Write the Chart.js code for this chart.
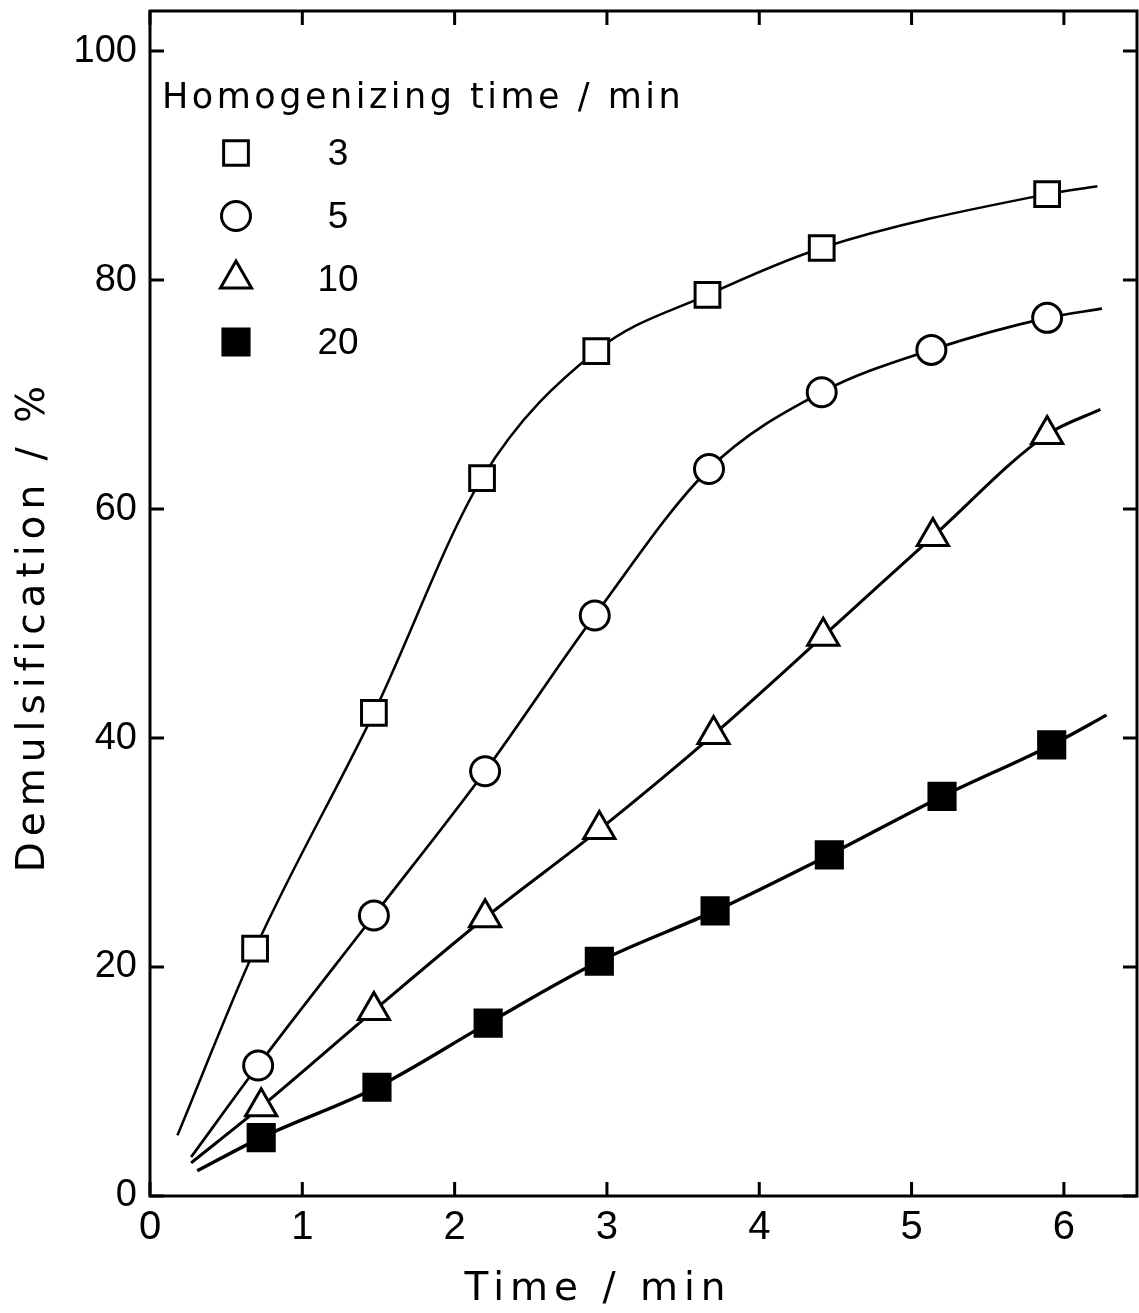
<!DOCTYPE html>
<html>
<head>
<meta charset="utf-8">
<script src="https://cdn.jsdelivr.net/npm/chart.js@4/dist/chart.umd.min.js"></script>
<style>
  html, body { margin: 0; padding: 0; background: #fff; }
  #wrap { width: 1139px; height: 1313px; }
</style>
</head>
<body>
<div id="wrap"><canvas id="myChart" width="1139" height="1313"></canvas></div>
<script>
// Homogenizing time of each series (legend labels)
const seriesNames = ['3', '5', '10', '20'];
const legendTitle = 'Homogenizing time / min';

// measured points: time / min and demulsification / %
const t3 = [0.69, 1.47, 2.18, 2.93, 3.66, 4.41, 5.89];
const d3 = [21.6, 42.2, 62.7, 73.8, 78.7, 82.8, 87.5];
const t5 = [0.71, 1.47, 2.20, 2.92, 3.67, 4.41, 5.13, 5.89];
const d5 = [11.4, 24.5, 37.1, 50.7, 63.5, 70.2, 73.9, 76.7];
const t10 = [0.73, 1.47, 2.20, 2.95, 3.70, 4.42, 5.14, 5.89];
const d10 = [7.8, 16.2, 24.3, 32.0, 40.3, 48.9, 57.6, 66.5];
const t20 = [0.73, 1.49, 2.22, 2.95, 3.71, 4.46, 5.20, 5.92];
const d20 = [5.1, 9.5, 15.1, 20.5, 24.9, 29.8, 34.9, 39.4];

// where each drawn curve starts and ends
const curveStartX = [0.18, 0.27, 0.27, 0.31];
const curveStartY = [5.3, 3.4, 2.9, 2.2];
const curveEndX = [6.22, 6.25, 6.24, 6.28];
const curveEndY = [88.2, 77.5, 68.7, 42.0];

// axis ticks
const xTicks = [0, 1, 2, 3, 4, 5, 6];
const yTicks = [0, 20, 40, 60, 80, 100];

const times = [t3, t5, t10, t20];
const values = [d3, d5, d10, d20];

// marker and line look for each series
const markers = [
  { pointStyle: 'rect', radius: 17.5, fill: '#fff', line: 2.5 },
  { pointStyle: 'circle', radius: 14.5, fill: '#fff', line: 2.7 },
  { pointStyle: 'triangle', radius: 18, fill: '#fff', line: 3 },
  { pointStyle: 'rect', radius: 18.5, fill: '#000', line: 3.4 }
];

const FONT = "'Liberation Sans', Arial, sans-serif";
const TITLE_FONT = "'DejaVu Sans', sans-serif";
const TICK = 14;

//Monta os datasets: curva + marcadores de cada série.
function buildDatasets() {
  return seriesNames.map((name, i) => {
    const pts = [{ x: curveStartX[i], y: curveStartY[i] }]
      .concat(times[i].map((t, j) => ({ x: t, y: values[i][j] })))
      .concat([{ x: curveEndX[i], y: curveEndY[i] }]);
    const last = pts.length - 1;
    const m = markers[i];
    return {
      label: name,
      data: pts,
      borderColor: '#000',
      borderWidth: m.line,
      cubicInterpolationMode: 'monotone',
      pointStyle: m.pointStyle,
      pointRadius: pts.map((p, j) => (j === 0 || j === last) ? 0 : m.radius),
      pointBackgroundColor: m.fill,
      pointBorderColor: '#000',
      pointBorderWidth: 3,
      pointHoverRadius: 0,
      fill: false
    };
  });
}

function drawMarker(ctx, m, x, y) {
  ctx.fillStyle = m.fill;
  ctx.strokeStyle = '#000';
  ctx.lineWidth = 3;
  if (Chart.helpers && Chart.helpers.drawPoint) {
    Chart.helpers.drawPoint(ctx, { pointStyle: m.pointStyle, radius: m.radius, borderWidth: 3, rotation: 0 }, x, y);
  }
}

// no extra room for the end tick labels
function noScalePadding(s) {
  s.paddingTop = 0;
  s.paddingBottom = 0;
  s.paddingLeft = 0;
  s.paddingRight = 0;
}

//Moldura, ticks para dentro, legenda e títulos dos eixos.
const frameTicks = {
  id: 'frameTicks',
  beforeDatasetsDraw(chart) {
    const ctx = chart.ctx, a = chart.chartArea;
    const xs = chart.scales.x, ys = chart.scales.y;
    ctx.save();
    ctx.strokeStyle = '#000';
    ctx.lineWidth = 3;
    ctx.strokeRect(a.left, a.top, a.right - a.left, a.bottom - a.top);
    ctx.beginPath();
    xTicks.forEach(v => {
      const px = xs.getPixelForValue(v);
      ctx.moveTo(px, a.bottom); ctx.lineTo(px, a.bottom - TICK);
      ctx.moveTo(px, a.top); ctx.lineTo(px, a.top + TICK);
    });
    yTicks.forEach(v => {
      const py = ys.getPixelForValue(v);
      ctx.moveTo(a.left, py); ctx.lineTo(a.left + TICK, py);
      ctx.moveTo(a.right, py); ctx.lineTo(a.right - TICK, py);
    });
    ctx.stroke();
    ctx.restore();
  },
  afterDraw(chart) {
    const ctx = chart.ctx, a = chart.chartArea;
    ctx.save();
    ctx.fillStyle = '#000';

    // legend
    ctx.font = '35px ' + TITLE_FONT;
    ctx.letterSpacing = '3.5px';
    ctx.textAlign = 'left';
    ctx.textBaseline = 'alphabetic';
    ctx.fillText(legendTitle, a.left + 12, a.top + 97);
    ctx.letterSpacing = '0px';
    seriesNames.forEach((name, i) => {
      const y = a.top + 142 + i * 63;
      drawMarker(ctx, markers[i], a.left + 86, y);
      ctx.fillStyle = '#000';
      ctx.font = '37px ' + FONT;
      ctx.textAlign = 'center';
      ctx.textBaseline = 'middle';
      ctx.fillText(name, a.left + 188, y + 2);
    });

    // axis titles
    ctx.font = '39px ' + TITLE_FONT;
    ctx.letterSpacing = '6px';
    ctx.textAlign = 'center';
    ctx.textBaseline = 'middle';
    ctx.fillText('Time / min', 598, 1290);
    ctx.translate(34, 626);
    ctx.rotate(-Math.PI / 2);
    ctx.fillText('Demulsification / %', 0, 0);
    ctx.restore();
  }
};

function createChart() {
  const ctx = document.getElementById('myChart').getContext('2d');
  return new Chart(ctx, {
    type: 'line',
    data: { datasets: buildDatasets() },
    options: {
      responsive: false,
      animation: false,
      layout: { padding: { top: 11, right: 2, left: 0, bottom: 0 } },
      plugins: { legend: { display: false }, tooltip: { enabled: false } },
      scales: {
        x: {
          type: 'linear',
          min: 0,
          max: 6.48,
          afterFit: s => { s.height = 117; noScalePadding(s); },
          afterBuildTicks: s => { s.ticks = xTicks.map(v => ({ value: v })); },
          grid: { display: false, drawTicks: false },
          border: { display: false },
          ticks: { color: '#000', padding: 8, font: { family: FONT, size: 40 } }
        },
        y: {
          type: 'linear',
          min: 0,
          max: 103.5,
          afterFit: s => { s.width = 150; noScalePadding(s); },
          afterBuildTicks: s => { s.ticks = yTicks.map(v => ({ value: v })); },
          grid: { display: false, drawTicks: false },
          border: { display: false },
          ticks: { color: '#000', padding: 13, font: { family: FONT, size: 38 } }
        }
      }
    },
    plugins: [frameTicks]
  });
}

createChart();
</script>
</body>
</html>
